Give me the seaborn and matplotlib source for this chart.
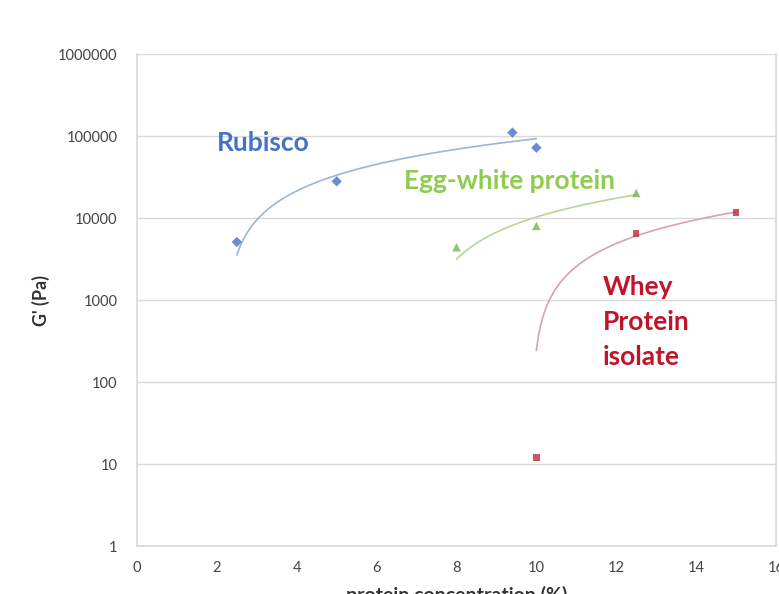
import matplotlib
matplotlib.use("Agg")
import matplotlib.pyplot as plt
import seaborn as sns
import pandas as pd
from matplotlib.ticker import FixedLocator, FuncFormatter

# ---- data ----
rubisco_x = [2.5, 5, 9.4, 10]
rubisco_y = [5100, 28000, 110000, 72000]
egg_x = [8, 10, 12.5]
egg_y = [4400, 8000, 20200]
whey_x = [10, 12.5, 15]
whey_y = [12, 6500, 11600]

y_ticks = [1, 10, 100, 1000, 10000, 100000, 1000000]
x_ticks = [0, 2, 4, 6, 8, 10, 12, 14, 16]

sns.set_style("white")
plt.rcParams['font.family'] = ['Lato', 'DejaVu Sans']

fig = plt.figure(figsize=(7.79, 5.94), dpi=100)
ax = fig.add_axes([137/779, 48/594, 639/779, 492/594])

series = [
    (rubisco_x, rubisco_y, "D", "#4472C4", "#9DB3DB", 28),
    (egg_x, egg_y, "^", "#7AB648", "#B9D59B", 38),
    (whey_x, whey_y, "s", "#BE2B3A", "#D7A3A8", 22),
]
for xs, ys, mk, c, lc, s in series:
    df = pd.DataFrame({"x": xs, "y": ys})
    sns.regplot(data=df, x="x", y="y", ax=ax, ci=None, truncate=True,
                marker=mk,
                scatter_kws=dict(color=c, s=s, edgecolor="none", zorder=4),
                line_kws=dict(color=lc, lw=1.2, zorder=3))

ax.set_yscale("log")
ax.set_ylim(1, 1000000)
ax.set_xlim(0, 16)
ax.yaxis.set_major_locator(FixedLocator(y_ticks))
ax.yaxis.set_minor_locator(FixedLocator([]))
ax.yaxis.set_major_formatter(FuncFormatter(lambda v, p: f"{int(round(v))}"))
ax.xaxis.set_major_locator(FixedLocator(x_ticks))

ax.grid(axis="y", color="#D9D9D9", lw=1)
ax.grid(axis="x", visible=False)
for side in ["left", "bottom", "right"]:
    ax.spines[side].set_visible(True)
    ax.spines[side].set_color("#D9D9D9")
    ax.spines[side].set_linewidth(1.2)
ax.spines["top"].set_visible(False)

ax.tick_params(axis="both", which="major", length=5, width=1, color="#D9D9D9",
               labelsize=10.5, labelcolor="#444444", direction="out")
ax.tick_params(axis="y", pad=9)
ax.tick_params(axis="x", pad=6)

ax.set_xlabel("protein concentration (%)", fontsize=14, fontweight="bold",
              color="#333333", labelpad=8)
ax.set_ylabel("G' (Pa)", fontsize=13, fontweight="bold", color="#333333",
              labelpad=6)

ax.text(2.0, 82000, "Rubisco", color="#4472C4", fontsize=19,
        fontweight="bold", ha="left", va="center")
ax.text(6.68, 28000, "Egg-white protein", color="#8FCB4F", fontsize=19,
        fontweight="bold", ha="left", va="center")
ax.text(11.67, 540, "Whey\nProtein\nisolate", color="#C0142A", fontsize=19,
        fontweight="bold", ha="left", va="center", linespacing=1.55)

fig.savefig("out.png", dpi=100)
